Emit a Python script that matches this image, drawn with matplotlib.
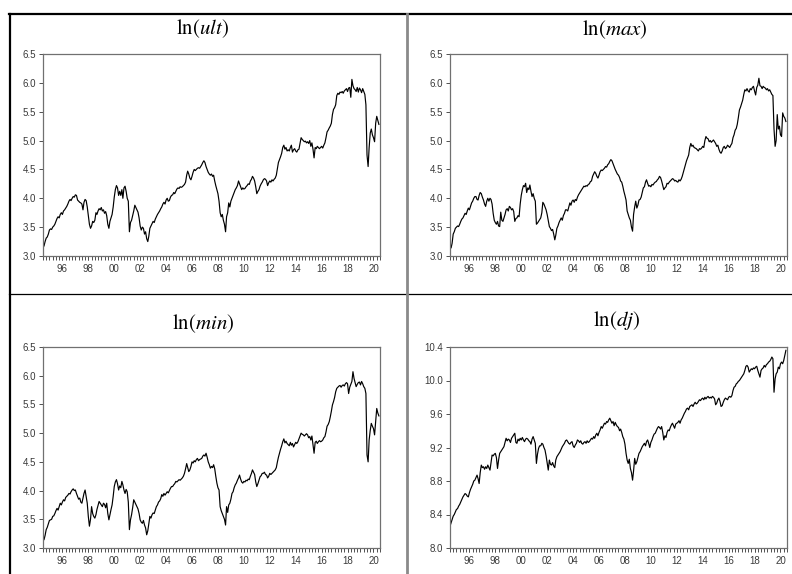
import numpy as np
import pandas as pd
import matplotlib
matplotlib.use('Agg')
import matplotlib.pyplot as plt
import matplotlib.dates as mdates
from matplotlib.lines import Line2D

plt.rcParams['mathtext.fontset'] = 'stix'
plt.rcParams['font.family'] = 'Liberation Sans'

# monthly observations, Jan 1995 - Dec 2020 (one row per year)
ult = [
    3.14, 3.18, 3.25, 3.31, 3.33, 3.38, 3.45, 3.47, 3.46, 3.50, 3.52, 3.55,
    3.60, 3.65, 3.68, 3.66, 3.72, 3.75, 3.72, 3.78, 3.80, 3.83, 3.86, 3.90,
    3.95, 3.98, 3.96, 4.00, 4.03, 4.02, 4.06, 4.05, 3.97, 3.95, 3.93, 3.92,
    3.90, 3.80, 3.93, 3.98, 3.96, 3.85, 3.70, 3.55, 3.48, 3.52, 3.60, 3.58,
    3.62, 3.75, 3.72, 3.78, 3.82, 3.80, 3.84, 3.78, 3.80, 3.74, 3.77, 3.70,
    3.55, 3.48, 3.60, 3.66, 3.72, 3.85, 4.02, 4.15, 4.22, 4.18, 4.05, 4.12,
    4.05, 4.15, 4.00, 4.18, 4.21, 4.12, 4.00, 3.95, 3.42, 3.58, 3.62, 3.70,
    3.78, 3.88, 3.84, 3.80, 3.76, 3.66, 3.52, 3.45, 3.50, 3.48, 3.38, 3.42,
    3.30, 3.25, 3.34, 3.48, 3.52, 3.56, 3.60, 3.58, 3.64, 3.68, 3.72, 3.75,
    3.78, 3.82, 3.85, 3.90, 3.93, 3.90, 3.97, 4.00, 3.95, 3.96, 4.02, 4.05,
    4.06, 4.10, 4.08, 4.12, 4.16, 4.18, 4.17, 4.20, 4.19, 4.20, 4.22, 4.24,
    4.28, 4.40, 4.47, 4.42, 4.35, 4.32, 4.38, 4.45, 4.50, 4.48, 4.50, 4.52,
    4.53, 4.52, 4.55, 4.58, 4.62, 4.65, 4.62, 4.55, 4.50, 4.45, 4.42, 4.40,
    4.42, 4.38, 4.40, 4.30, 4.22, 4.15, 4.08, 3.95, 3.75, 3.68, 3.72, 3.62,
    3.55, 3.42, 3.68, 3.75, 3.92, 3.85, 3.95, 4.00, 4.05, 4.10, 4.15, 4.18,
    4.22, 4.30, 4.25, 4.20, 4.15, 4.18, 4.16, 4.17, 4.20, 4.22, 4.25, 4.24,
    4.30, 4.33, 4.38, 4.35, 4.30, 4.20, 4.08, 4.12, 4.15, 4.21, 4.25, 4.28,
    4.32, 4.34, 4.33, 4.30, 4.22, 4.27, 4.30, 4.28, 4.32, 4.30, 4.33, 4.35,
    4.40, 4.52, 4.62, 4.67, 4.72, 4.78, 4.88, 4.92, 4.85, 4.88, 4.82, 4.84,
    4.82, 4.88, 4.92, 4.80, 4.84, 4.86, 4.82, 4.80, 4.84, 4.85, 4.95, 5.05,
    5.02, 5.00, 4.98, 4.99, 4.96, 4.98, 4.95, 5.00, 4.90, 4.96, 4.85, 4.70,
    4.88, 4.86, 4.90, 4.88, 4.86, 4.88, 4.90, 4.87, 4.92, 4.96, 5.05, 5.15,
    5.18, 5.22, 5.25, 5.30, 5.45, 5.54, 5.57, 5.62, 5.78, 5.82, 5.80, 5.84,
    5.83, 5.85, 5.82, 5.86, 5.88, 5.90, 5.85, 5.91, 5.92, 5.75, 6.06, 5.95,
    5.90, 5.88, 5.85, 5.92, 5.84, 5.91, 5.88, 5.83, 5.90, 5.85, 5.80, 5.62,
    4.75, 4.55, 4.88, 5.13, 5.20, 5.10, 5.05, 4.98, 5.30, 5.42, 5.35, 5.28,
]

mx = [
    3.20, 3.14, 3.22, 3.38, 3.42, 3.48, 3.50, 3.52, 3.51, 3.55, 3.60, 3.64,
    3.66, 3.70, 3.74, 3.72, 3.78, 3.83, 3.80, 3.86, 3.92, 3.95, 4.00, 4.03,
    4.03, 3.98, 3.97, 4.05, 4.10, 4.08, 4.02, 3.97, 3.90, 3.86, 3.95, 4.00,
    3.95, 4.00, 3.98, 3.90, 3.74, 3.62, 3.58, 3.55, 3.60, 3.52, 3.51, 3.76,
    3.62, 3.60, 3.66, 3.72, 3.80, 3.82, 3.78, 3.86, 3.84, 3.80, 3.82, 3.77,
    3.60, 3.65, 3.66, 3.70, 3.68, 3.90, 4.05, 4.15, 4.22, 4.20, 4.26, 4.10,
    4.18, 4.15, 4.23, 4.12, 4.03, 4.08, 4.00, 3.95, 3.55, 3.57, 3.60, 3.63,
    3.66, 3.75, 3.93, 3.90, 3.85, 3.80, 3.72, 3.62, 3.51, 3.48, 3.44, 3.46,
    3.38, 3.28, 3.36, 3.48, 3.52, 3.58, 3.62, 3.66, 3.62, 3.70, 3.74, 3.80,
    3.80, 3.78, 3.85, 3.92, 3.88, 3.95, 3.97, 3.93, 3.98, 3.96, 4.02, 4.06,
    4.09, 4.12, 4.15, 4.18, 4.21, 4.20, 4.22, 4.21, 4.24, 4.25, 4.29, 4.30,
    4.38, 4.42, 4.46, 4.43, 4.38, 4.35, 4.40, 4.46, 4.49, 4.48, 4.50, 4.52,
    4.55, 4.54, 4.58, 4.60, 4.64, 4.67, 4.65, 4.60, 4.55, 4.50, 4.46, 4.42,
    4.40, 4.36, 4.30, 4.28, 4.21, 4.12, 4.05, 3.97, 3.78, 3.72, 3.66, 3.62,
    3.50, 3.43, 3.72, 3.85, 3.95, 3.83, 3.88, 3.97, 3.98, 4.02, 4.10, 4.18,
    4.20, 4.28, 4.32, 4.26, 4.21, 4.22, 4.20, 4.24, 4.23, 4.26, 4.28, 4.29,
    4.32, 4.34, 4.38, 4.36, 4.30, 4.22, 4.15, 4.18, 4.20, 4.26, 4.25, 4.28,
    4.30, 4.32, 4.34, 4.33, 4.30, 4.31, 4.29, 4.28, 4.32, 4.30, 4.33, 4.38,
    4.45, 4.52, 4.59, 4.65, 4.70, 4.75, 4.88, 4.95, 4.90, 4.92, 4.88, 4.87,
    4.86, 4.84, 4.82, 4.86, 4.85, 4.87, 4.90, 4.88, 5.00, 5.07, 5.04, 5.03,
    4.98, 5.00, 4.97, 4.99, 5.01, 4.98, 4.95, 4.90, 4.92, 4.85, 4.80, 4.78,
    4.82, 4.88, 4.90, 4.86, 4.88, 4.92, 4.90, 4.88, 4.92, 4.95, 5.05, 5.10,
    5.18, 5.21, 5.28, 5.40, 5.53, 5.58, 5.64, 5.70, 5.80, 5.88, 5.86, 5.90,
    5.86, 5.84, 5.90, 5.88, 5.92, 5.94, 5.86, 5.79, 5.92, 5.96, 6.08, 5.95,
    5.94, 5.90, 5.94, 5.92, 5.91, 5.88, 5.90, 5.86, 5.88, 5.84, 5.80, 5.78,
    5.20, 4.90, 5.00, 5.45, 5.20, 5.25, 5.10, 5.07, 5.48, 5.42, 5.39, 5.33,
]

mn = [
    3.12, 3.15, 3.22, 3.32, 3.36, 3.42, 3.48, 3.49, 3.50, 3.55, 3.56, 3.60,
    3.65, 3.69, 3.66, 3.72, 3.78, 3.75, 3.80, 3.84, 3.82, 3.88, 3.90, 3.92,
    3.95, 3.94, 3.98, 4.01, 4.03, 4.00, 4.01, 3.95, 3.90, 3.85, 3.87, 3.80,
    3.78, 3.87, 3.95, 4.01, 3.90, 3.78, 3.55, 3.38, 3.50, 3.72, 3.60, 3.55,
    3.52, 3.58, 3.67, 3.74, 3.81, 3.78, 3.75, 3.72, 3.78, 3.76, 3.70, 3.78,
    3.60, 3.49, 3.58, 3.67, 3.75, 3.90, 4.07, 4.15, 4.19, 4.12, 4.01, 4.08,
    4.05, 4.16, 4.10, 4.01, 3.95, 4.02, 3.98, 3.80, 3.32, 3.49, 3.58, 3.70,
    3.84, 3.80, 3.76, 3.72, 3.68, 3.60, 3.49, 3.45, 3.43, 3.48, 3.40, 3.35,
    3.23, 3.30, 3.42, 3.55, 3.52, 3.58, 3.61, 3.60, 3.66, 3.72, 3.75, 3.80,
    3.82, 3.86, 3.93, 3.90, 3.95, 3.92, 3.95, 3.98, 3.96, 4.00, 4.04, 4.07,
    4.07, 4.10, 4.12, 4.16, 4.15, 4.17, 4.19, 4.18, 4.20, 4.22, 4.25, 4.30,
    4.38, 4.47, 4.40, 4.33, 4.36, 4.42, 4.50, 4.48, 4.52, 4.50, 4.54, 4.56,
    4.52, 4.54, 4.55, 4.56, 4.60, 4.62, 4.60, 4.65, 4.58, 4.50, 4.45, 4.39,
    4.42, 4.40, 4.45, 4.38, 4.25, 4.13, 4.05, 4.01, 3.72, 3.65, 3.60, 3.55,
    3.50, 3.40, 3.72, 3.62, 3.75, 3.78, 3.85, 3.95, 3.98, 4.05, 4.10, 4.13,
    4.18, 4.22, 4.27, 4.20, 4.15, 4.13, 4.16, 4.15, 4.18, 4.17, 4.20, 4.19,
    4.25, 4.30, 4.36, 4.32, 4.28, 4.15, 4.07, 4.12, 4.18, 4.24, 4.26, 4.30,
    4.30, 4.32, 4.28, 4.27, 4.22, 4.25, 4.30, 4.28, 4.30, 4.32, 4.34, 4.36,
    4.40, 4.50, 4.58, 4.65, 4.72, 4.78, 4.85, 4.90, 4.83, 4.86, 4.82, 4.80,
    4.78, 4.84, 4.79, 4.82, 4.76, 4.80, 4.84, 4.82, 4.85, 4.90, 4.95, 5.00,
    4.98, 4.97, 4.95, 4.97, 4.99, 4.97, 4.92, 4.94, 4.88, 4.95, 4.80, 4.65,
    4.84, 4.86, 4.82, 4.85, 4.87, 4.85, 4.86, 4.88, 4.92, 4.94, 5.02, 5.12,
    5.15, 5.20, 5.28, 5.38, 5.49, 5.55, 5.62, 5.72, 5.78, 5.80, 5.82, 5.83,
    5.80, 5.83, 5.84, 5.82, 5.86, 5.88, 5.86, 5.69, 5.80, 5.85, 5.90, 6.07,
    5.95, 5.88, 5.81, 5.85, 5.88, 5.89, 5.84, 5.90, 5.86, 5.81, 5.78, 5.69,
    4.62, 4.50, 4.88, 5.05, 5.17, 5.12, 5.08, 4.97, 5.20, 5.43, 5.35, 5.30,
]

dj = [
    8.26, 8.30, 8.34, 8.38, 8.40, 8.43, 8.46, 8.47, 8.50, 8.52, 8.55, 8.58,
    8.61, 8.63, 8.65, 8.64, 8.62, 8.61, 8.66, 8.70, 8.73, 8.76, 8.80, 8.81,
    8.84, 8.87, 8.83, 8.77, 8.90, 8.99, 8.96, 8.97, 8.94, 8.97, 8.95, 8.99,
    8.96, 8.93, 9.02, 9.11, 9.10, 9.12, 9.13, 9.08, 8.95, 9.05, 9.13, 9.15,
    9.17, 9.19, 9.21, 9.26, 9.31, 9.28, 9.30, 9.29, 9.26, 9.31, 9.33, 9.35,
    9.37, 9.26, 9.25, 9.30, 9.28, 9.31, 9.29, 9.32, 9.29, 9.27, 9.30, 9.31,
    9.30, 9.28, 9.27, 9.24, 9.30, 9.33, 9.29, 9.25, 9.01, 9.12, 9.19, 9.22,
    9.22, 9.25, 9.24, 9.20, 9.17, 9.10, 9.02, 8.93, 9.05, 9.00, 8.99, 9.02,
    8.98, 8.96, 9.05, 9.09, 9.11, 9.13, 9.15, 9.18, 9.21, 9.23, 9.25, 9.28,
    9.29, 9.27, 9.25, 9.24, 9.26, 9.27, 9.22, 9.20, 9.23, 9.25, 9.29, 9.28,
    9.26, 9.28, 9.25, 9.24, 9.26, 9.27, 9.25, 9.28, 9.26, 9.27, 9.29, 9.31,
    9.30, 9.33, 9.31, 9.35, 9.37, 9.34, 9.38, 9.41, 9.45, 9.43, 9.46, 9.49,
    9.48, 9.51, 9.50, 9.53, 9.55, 9.52, 9.49, 9.51, 9.46, 9.50, 9.47, 9.45,
    9.44, 9.40, 9.42, 9.38, 9.33, 9.30, 9.24, 9.13, 9.05, 9.01, 9.06, 8.95,
    8.90, 8.81, 8.92, 9.07, 9.00, 9.03, 9.08, 9.13, 9.15, 9.18, 9.21, 9.23,
    9.25, 9.22, 9.27, 9.29, 9.25, 9.20, 9.26, 9.29, 9.33, 9.36, 9.37, 9.40,
    9.43, 9.45, 9.44, 9.42, 9.45, 9.38, 9.29, 9.34, 9.32, 9.38, 9.41, 9.40,
    9.44, 9.47, 9.49, 9.46, 9.43, 9.48, 9.49, 9.50, 9.52, 9.49, 9.53, 9.55,
    9.58, 9.61, 9.63, 9.66, 9.67, 9.65, 9.69, 9.70, 9.71, 9.69, 9.72, 9.74,
    9.72, 9.73, 9.75, 9.77, 9.76, 9.78, 9.79, 9.77, 9.80, 9.78, 9.80, 9.81,
    9.79, 9.80, 9.79, 9.81, 9.80, 9.78, 9.71, 9.73, 9.77, 9.79, 9.75, 9.69,
    9.70, 9.74, 9.77, 9.79, 9.78, 9.77, 9.80, 9.81, 9.80, 9.82, 9.88, 9.92,
    9.93, 9.96, 9.97, 9.99, 10.00, 10.02, 10.04, 10.06, 10.08, 10.12, 10.17, 10.18,
    10.16, 10.10, 10.12, 10.14, 10.13, 10.15, 10.14, 10.16, 10.17, 10.12, 10.08, 10.04,
    10.12, 10.14, 10.15, 10.18, 10.16, 10.19, 10.20, 10.22, 10.23, 10.25, 10.28, 10.26,
    9.86, 10.02, 10.08, 10.10, 10.16, 10.14, 10.20, 10.22, 10.20, 10.24, 10.30, 10.36,
]

dates = pd.date_range('1995-01-01', periods=len(ult), freq='MS')

titles = [r'$\ln(ult)$', r'$\ln(max)$', r'$\ln(min)$', r'$\ln(dj)$']
series = [ult, mx, mn, dj]
yticks_list = [np.arange(3.0, 6.51, 0.5), np.arange(3.0, 6.51, 0.5),
               np.arange(3.0, 6.51, 0.5), np.arange(8.0, 10.41, 0.4)]

W, H = 792, 574
fig = plt.figure(figsize=(W / 100, H / 100), dpi=100)

# axes boxes in pixels: left, right, top, bottom
boxes = [(43, 380, 54, 256), (450, 787, 54, 256),
         (43, 380, 347, 548), (450, 787, 347, 548)]
title_pos = [(203, 29), (615, 30), (203, 324), (617, 321)]

for i in range(4):
    l, r, t, b = boxes[i]
    ax = fig.add_axes([l / W, 1 - b / H, (r - l) / W, (b - t) / H])
    ax.plot(dates, series[i], color='black', lw=0.85)
    yt = yticks_list[i]
    ax.set_ylim(yt[0], yt[-1])
    ax.set_yticks(yt)
    ax.set_yticklabels(['%.1f' % v for v in yt])
    ax.set_xlim(pd.Timestamp('1995-01-01'), pd.Timestamp('2021-01-01'))
    ax.xaxis.set_major_locator(mdates.YearLocator(base=2, month=7, day=1))
    ax.xaxis.set_major_formatter(mdates.DateFormatter('%y'))
    ax.xaxis.set_minor_locator(mdates.MonthLocator(bymonth=[1, 4, 7, 10]))
    ax.xaxis.remove_overlapping_locs = False
    for s in ax.spines.values():
        s.set_color('#707070')
        s.set_linewidth(0.9)
    ax.tick_params(axis='both', which='both', direction='out', color='#505050',
                   labelsize=7, labelcolor='#3a3a3a', width=0.7)
    ax.tick_params(axis='x', which='major', length=3, pad=2.5)
    ax.tick_params(axis='x', which='minor', length=3)
    ax.tick_params(axis='y', which='major', length=3, pad=2)
    fig.text(title_pos[i][0] / W, 1 - title_pos[i][1] / H, titles[i],
             ha='center', va='center', fontsize=15)

# table frame lines
def hline(y, x0, x1, color, lw):
    fig.add_artist(Line2D([x0 / W, x1 / W], [1 - y / H, 1 - y / H],
                          transform=fig.transFigure, color=color, lw=lw))

def vline(x, y0, y1, color, lw):
    fig.add_artist(Line2D([x / W, x / W], [1 - y0 / H, 1 - y1 / H],
                          transform=fig.transFigure, color=color, lw=lw))

hline(14.3, 9, 792, 'black', 1.6)
hline(294.5, 9, 792, 'black', 0.9)
vline(9.5, 14, 574, 'black', 1.6)
vline(407, 14, 574, '#8a8a8a', 2.0)

fig.savefig('out.png', dpi=100)
